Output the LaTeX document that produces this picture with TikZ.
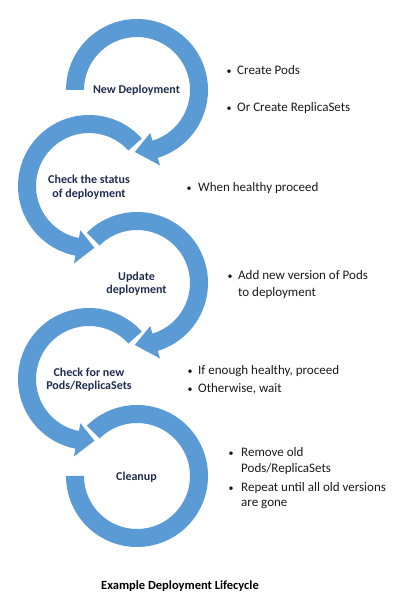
\documentclass[tikz,border=0pt]{standalone}
\usepackage{fontspec}
\setmainfont{Carlito}
\definecolor{ringblue}{HTML}{5B9BD5}
\definecolor{navytext}{HTML}{1F2D4F}
\definecolor{bodytext}{HTML}{1A1A1A}
\begin{document}
\begin{tikzpicture}[x=1pt,y=1pt,
  ring/.style={fill=ringblue},
  steptitle/.style={anchor=base, inner sep=0pt, text=navytext, font=\fontsize{12}{14}\selectfont\bfseries},
  bulletdot/.style={anchor=base, inner sep=0pt, text=bodytext, font=\fontsize{10}{12}\selectfont},
  itemtext/.style={anchor=base west, inner sep=0pt, text=bodytext, font=\fontsize{13}{16}\selectfont},
  captiontext/.style={anchor=base, inner sep=0pt, text=black, font=\fontsize{12.5}{15}\selectfont\bfseries}]
\useasboundingbox (0,0) rectangle (409,605);

% ring centres
\coordinate (cA) at (137,515);
\coordinate (cB) at (89,419);
\coordinate (cC) at (137,322);
\coordinate (cD) at (89,226);
\coordinate (cE) at (137,129);

% Ring A: New Deployment (clockwise)
\begin{scope}[shift={(cA)}]
\fill[ring] (180:71pt) arc[start angle=180, end angle=-73, radius=71pt]
  -- (-73:79pt) -- (-92:62pt) -- (-73:45pt) -- (-73:53pt)
  arc[start angle=-73, end angle=180, radius=53pt] -- cycle;
\end{scope}
% Ring B: Check the status (counter-clockwise)
\begin{scope}[shift={(cB)}]
\fill[ring] (42:71pt) arc[start angle=42, end angle=259, radius=71pt]
  -- (259:79pt) -- (275:62pt) -- (259:45pt) -- (259:53pt)
  arc[start angle=259, end angle=42, radius=53pt] -- cycle;
\end{scope}
% Ring C: Update deployment (clockwise)
\begin{scope}[shift={(cC)}]
\fill[ring] (135:71pt) arc[start angle=135, end angle=-73, radius=71pt]
  -- (-73:79pt) -- (-92:62pt) -- (-73:45pt) -- (-73:53pt)
  arc[start angle=-73, end angle=135, radius=53pt] -- cycle;
\end{scope}
% Ring D: Check for new (counter-clockwise)
\begin{scope}[shift={(cD)}]
\fill[ring] (42:71pt) arc[start angle=42, end angle=259, radius=71pt]
  -- (259:79pt) -- (275:62pt) -- (259:45pt) -- (259:53pt)
  arc[start angle=259, end angle=42, radius=53pt] -- cycle;
\end{scope}
% Ring E: Cleanup (clockwise, no head)
\begin{scope}[shift={(cE)}]
\fill[ring] (135:71pt) arc[start angle=135, end angle=-180, radius=71pt]
  -- (180:53pt) arc[start angle=-180, end angle=135, radius=53pt] -- cycle;
\end{scope}

% step titles
\node[steptitle] (tA) at (136.5,511) {New Deployment};
\node[steptitle] (tB1) at (89,421) {Check the status};
\node[steptitle] (tB2) at (89,407.5) {of deployment};
\node[steptitle] (tC1) at (136.5,324) {Update};
\node[steptitle] (tC2) at (136.5,311) {deployment};
\node[steptitle] (tD1) at (89,228.5) {Check for new};
\node[steptitle] (tD2) at (89,215) {Pods/ReplicaSets};
\node[steptitle] (tE) at (136.5,124) {Cleanup};

% bullet lists
\node[bulletdot] (bA1) at (229,530) {•};
\node[itemtext] (iA1) at (237,530) {Create Pods};
\node[bulletdot] (bA2) at (229,493) {•};
\node[itemtext] (iA2) at (237,493) {Or Create ReplicaSets};

\node[bulletdot] (bB1) at (189,413) {•};
\node[itemtext] (iB1) at (198,413) {When healthy proceed};

\node[bulletdot] (bC1) at (230,325) {•};
\node[itemtext] (iC1) at (238,325) {Add new version of Pods};
\node[itemtext] (iC1b) at (238,308) {to deployment};

\node[bulletdot] (bD1) at (190,230) {•};
\node[itemtext] (iD1) at (198,230) {If enough healthy, proceed};
\node[bulletdot] (bD2) at (190,212) {•};
\node[itemtext] (iD2) at (198,212) {Otherwise, wait};

\node[bulletdot] (bE1) at (231,148) {•};
\node[itemtext] (iE1) at (241,148) {Remove old};
\node[itemtext] (iE1b) at (241,132) {Pods/ReplicaSets};
\node[bulletdot] (bE2) at (231,113) {•};
\node[itemtext] (iE2) at (241,113) {Repeat until all old versions};
\node[itemtext] (iE2b) at (241,98) {are gone};

% caption
\node[captiontext] (cap) at (180,16) {Example Deployment Lifecycle};
\end{tikzpicture}
\end{document}
